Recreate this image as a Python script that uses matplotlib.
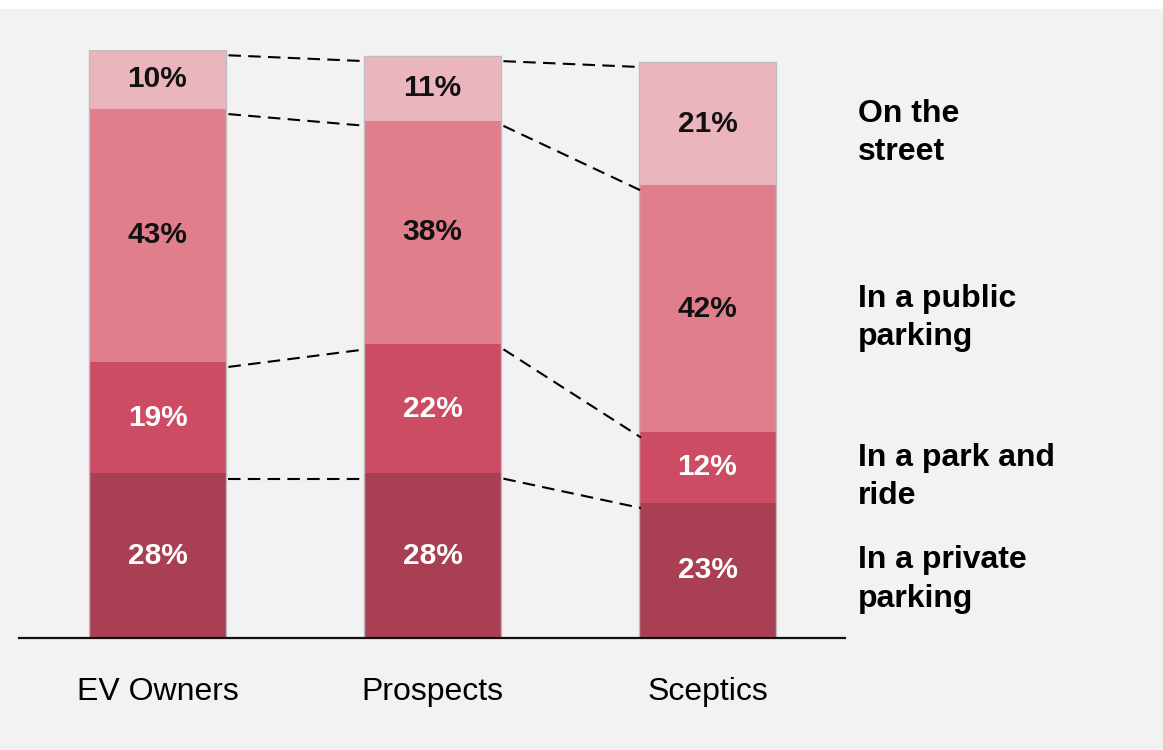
import matplotlib
matplotlib.use("Agg")
import matplotlib.pyplot as plt
from matplotlib.patches import Rectangle
import numpy as np

plt.rcParams['font.family'] = ['Liberation Sans', 'DejaVu Sans']

# Data: share of respondents by where they would charge
groups = ["EV Owners", "Prospects", "Sceptics"]
segments = ["In a private\nparking", "In a park and\nride", "In a public\nparking", "On the\nstreet"]
private_parking = [28, 28, 23]
park_and_ride = [19, 22, 12]
public_parking = [43, 38, 42]
on_street = [10, 11, 21]

series = [private_parking, park_and_ride, public_parking, on_street]
colors = ["#A93F53", "#CC4C63", "#E07E8C", "#EAB5BD"]
text_colors = ["white", "white", "#111111", "#111111"]

W, H, DPI = 1163, 750, 100
fig = plt.figure(figsize=(W / DPI, H / DPI), dpi=DPI, facecolor="white")
# light grey panel below a thin white strip at the top
fig.patches.append(Rectangle((0, 0), 1, 741 / H, transform=fig.transFigure,
                             facecolor="#F2F2F2", edgecolor="none", zorder=-10))

ax = fig.add_axes([19 / W, 112 / H, 826 / W, 588 / H])
ax.set_facecolor("none")
ax.set_xlim(-0.5036, 2.5)
ax.set_ylim(0, 100)

x = np.arange(len(groups))
bar_w = 0.5
bottom = np.zeros(len(groups))
bounds = [bottom.copy()]
for vals, col, tcol in zip(series, colors, text_colors):
    vals = np.array(vals, dtype=float)
    ax.bar(x, vals, bar_w, bottom=bottom, color=col, edgecolor="none", zorder=2)
    for xi, b, v in zip(x, bottom, vals):
        ax.text(xi, b + v / 2, f"{int(v)}%", ha="center", va="center",
                fontsize=21.5, fontweight="bold", color=tcol, zorder=4)
    bottom = bottom + vals
    bounds.append(bottom.copy())

# thin outline around each full bar
ax.bar(x, bottom, bar_w, fill=False, edgecolor="#BDBDBD", linewidth=1.0, zorder=3)

# dashed connectors between matching segment boundaries
gap = 0.008
for level in bounds[1:]:
    for i in range(len(groups) - 1):
        ax.plot([x[i] + bar_w / 2 + gap, x[i + 1] - bar_w / 2 + gap],
                [level[i] - 0.9, level[i + 1] - 0.9],
                color="black", linestyle=(0, (6, 3.5)), linewidth=1.5,
                zorder=3, clip_on=False)

# segment names to the right, aligned with the last bar
last = len(groups) - 1
for k, name in enumerate(segments):
    mid = bounds[k][last] + series[k][last] / 2
    ax.text(2.547, mid - 1.6, name, ha="left", va="center", fontsize=23,
            fontweight="bold", color="black", linespacing=1.38, clip_on=False)

ax.set_xticks(x)
ax.set_xticklabels(groups, fontsize=23)
ax.tick_params(axis="x", length=0, pad=28)
ax.set_yticks([])
for s in ["top", "right", "left"]:
    ax.spines[s].set_visible(False)
ax.spines["bottom"].set_color("#111111")
ax.spines["bottom"].set_linewidth(1.6)
ax.spines["bottom"].set_zorder(5)

fig.savefig("out.png", dpi=DPI, facecolor=fig.get_facecolor())
